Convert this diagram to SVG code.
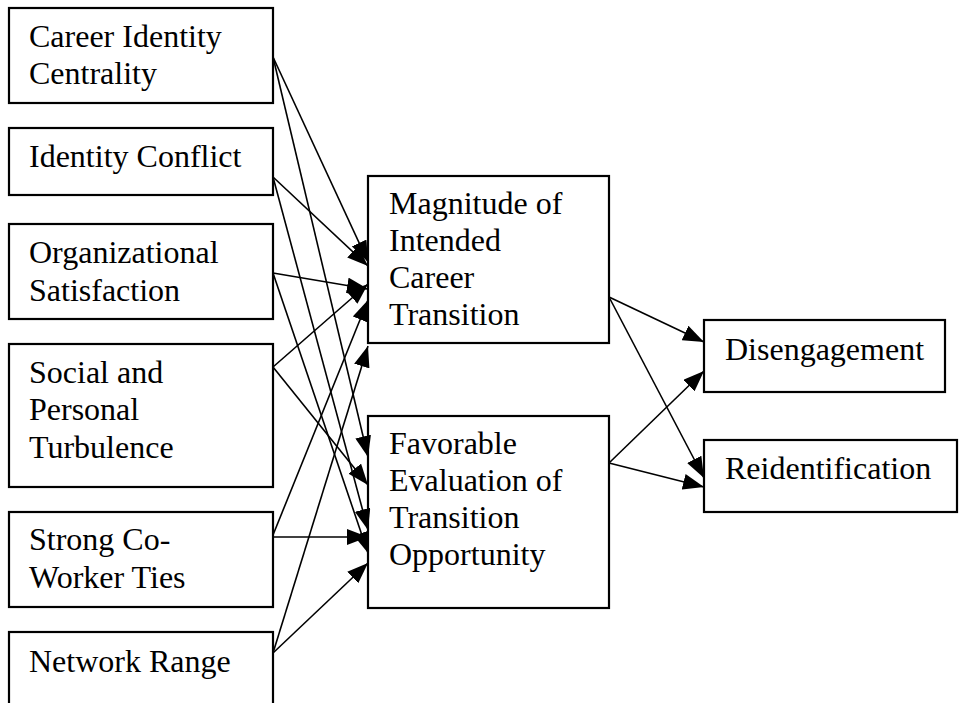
<svg xmlns="http://www.w3.org/2000/svg" width="959" height="703" viewBox="0 0 959 703">
  <style>
    .box { fill: #ffffff; stroke: #000000; stroke-width: 2.2; }
    .lbl { font-family: "Liberation Serif", "Times New Roman", serif; font-size: 32px; fill: #000000; }
    .edge { stroke: #000000; stroke-width: 1.6; fill: none; marker-end: url(#head); }
  </style>
  <defs>
    <marker id="head" markerUnits="userSpaceOnUse" markerWidth="21" markerHeight="16" refX="21" refY="8" orient="auto" viewBox="0 0 21 16">
      <path d="M0,0 L21,8 L0,16 z" fill="#000000"/>
    </marker>
  </defs>

  <rect width="959" height="703" fill="#ffffff"/>

  <!-- predictor nodes -->
  <g id="career-identity-centrality">
    <rect class="box" x="9" y="8" width="264" height="95"/>
    <text class="lbl" x="29" y="47">Career Identity</text>
    <text class="lbl" x="29" y="84">Centrality</text>
  </g>
  <g id="identity-conflict">
    <rect class="box" x="9" y="128" width="264" height="67"/>
    <text class="lbl" x="29" y="167">Identity Conflict</text>
  </g>
  <g id="organizational-satisfaction">
    <rect class="box" x="9" y="224" width="264" height="95"/>
    <text class="lbl" x="29" y="263">Organizational</text>
    <text class="lbl" x="29" y="301">Satisfaction</text>
  </g>
  <g id="social-personal-turbulence">
    <rect class="box" x="9" y="344" width="264" height="143"/>
    <text class="lbl" x="29" y="383">Social and</text>
    <text class="lbl" x="29" y="420">Personal</text>
    <text class="lbl" x="29" y="458">Turbulence</text>
  </g>
  <g id="strong-coworker-ties">
    <rect class="box" x="9" y="512" width="264" height="95"/>
    <text class="lbl" x="29" y="550">Strong Co-</text>
    <text class="lbl" x="29" y="588">Worker Ties</text>
  </g>
  <g id="network-range">
    <rect class="box" x="9" y="632" width="264" height="80"/>
    <text class="lbl" x="29" y="672">Network Range</text>
  </g>

  <!-- mediator nodes -->
  <g id="magnitude-transition">
    <rect class="box" x="368" y="176" width="241" height="167"/>
    <text class="lbl" x="389" y="214">Magnitude of</text>
    <text class="lbl" x="389" y="251">Intended</text>
    <text class="lbl" x="389" y="288">Career</text>
    <text class="lbl" x="389" y="325">Transition</text>
  </g>
  <g id="favorable-evaluation">
    <rect class="box" x="368" y="416" width="241" height="192"/>
    <text class="lbl" x="389" y="454">Favorable</text>
    <text class="lbl" x="389" y="491">Evaluation of</text>
    <text class="lbl" x="389" y="528">Transition</text>
    <text class="lbl" x="389" y="565">Opportunity</text>
  </g>

  <!-- outcome nodes -->
  <g id="disengagement">
    <rect class="box" x="704" y="320" width="241" height="72"/>
    <text class="lbl" x="725" y="360">Disengagement</text>
  </g>
  <g id="reidentification">
    <rect class="box" x="704" y="440" width="253" height="72"/>
    <text class="lbl" x="725" y="479">Reidentification</text>
  </g>

  <!-- connectors -->
  <g id="connectors">
    <!-- into Magnitude of Intended Career Transition -->
    <line class="edge" x1="273" y1="57" x2="368" y2="262"/>
    <line class="edge" x1="273" y1="177" x2="368" y2="266"/>
    <line class="edge" x1="273" y1="273" x2="368" y2="289"/>
    <line class="edge" x1="273" y1="367" x2="368" y2="284"/>
    <line class="edge" x1="273" y1="535" x2="368" y2="300"/>
    <line class="edge" x1="273" y1="653" x2="368" y2="346"/>
    <!-- into Favorable Evaluation of Transition Opportunity -->
    <line class="edge" x1="273" y1="57" x2="368" y2="457"/>
    <line class="edge" x1="273" y1="177" x2="368" y2="530"/>
    <line class="edge" x1="273" y1="273" x2="368" y2="553"/>
    <line class="edge" x1="273" y1="367" x2="368" y2="485"/>
    <line class="edge" x1="273" y1="537" x2="368" y2="537"/>
    <line class="edge" x1="273" y1="653" x2="368" y2="563"/>
    <!-- into the outcomes -->
    <line class="edge" x1="609" y1="297" x2="704" y2="342"/>
    <line class="edge" x1="609" y1="297" x2="704" y2="478"/>
    <line class="edge" x1="609" y1="463" x2="704" y2="371"/>
    <line class="edge" x1="609" y1="463" x2="704" y2="487"/>
  </g>
</svg>
